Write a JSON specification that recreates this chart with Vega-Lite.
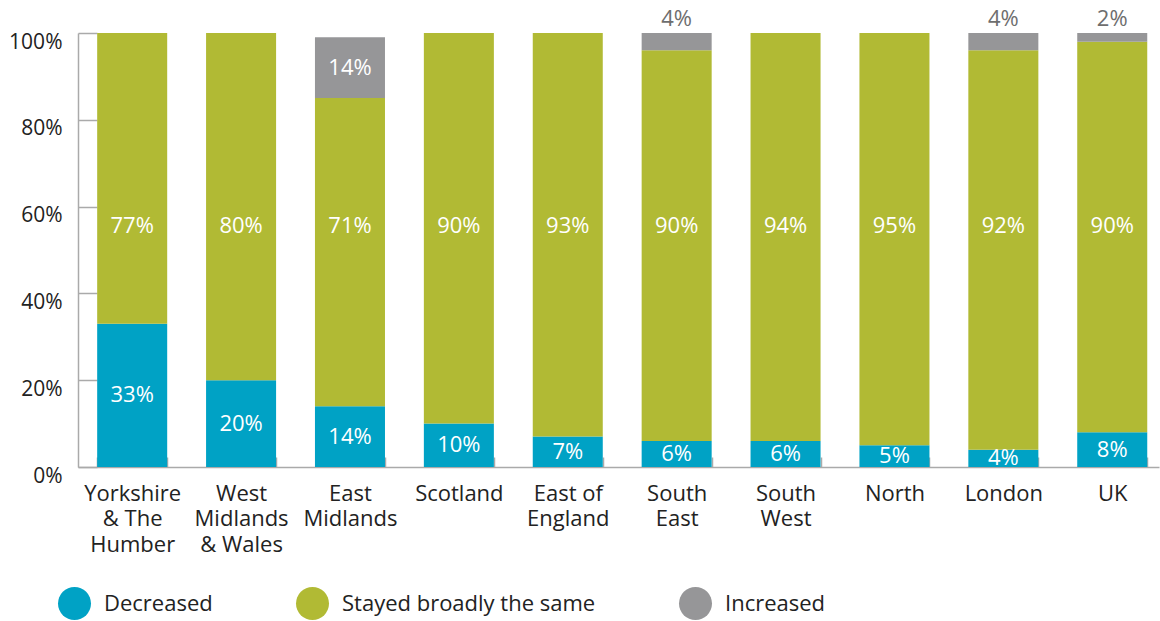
{
  "$schema": "https://vega.github.io/schema/vega-lite/v6.json",
  "width": 1081,
  "height": 434,
  "autosize": {"type": "none"},
  "padding": {"left": 78, "top": 33, "right": 1, "bottom": 154},
  "config": {"view": {"stroke": null}, "font": "Open Sans"},
  "data": {"values": [
    {"region": "Yorkshire|& The|Humber", "category": "Decreased", "rank": 1, "value": 33, "label": "33%"},
    {"region": "Yorkshire|& The|Humber", "category": "Stayed broadly the same", "rank": 2, "value": 67, "label": "77%"},
    {"region": "West|Midlands|& Wales", "category": "Decreased", "rank": 1, "value": 20, "label": "20%"},
    {"region": "West|Midlands|& Wales", "category": "Stayed broadly the same", "rank": 2, "value": 80, "label": "80%"},
    {"region": "East|Midlands", "category": "Decreased", "rank": 1, "value": 14, "label": "14%"},
    {"region": "East|Midlands", "category": "Stayed broadly the same", "rank": 2, "value": 71, "label": "71%"},
    {"region": "East|Midlands", "category": "Increased", "rank": 3, "value": 14, "label": "14%"},
    {"region": "Scotland", "category": "Decreased", "rank": 1, "value": 10, "label": "10%"},
    {"region": "Scotland", "category": "Stayed broadly the same", "rank": 2, "value": 90, "label": "90%"},
    {"region": "East of|England", "category": "Decreased", "rank": 1, "value": 7, "label": "7%"},
    {"region": "East of|England", "category": "Stayed broadly the same", "rank": 2, "value": 93, "label": "93%"},
    {"region": "South|East", "category": "Decreased", "rank": 1, "value": 6, "label": "6%"},
    {"region": "South|East", "category": "Stayed broadly the same", "rank": 2, "value": 90, "label": "90%"},
    {"region": "South|East", "category": "Increased", "rank": 3, "value": 4, "label": "4%"},
    {"region": "South|West", "category": "Decreased", "rank": 1, "value": 6, "label": "6%"},
    {"region": "South|West", "category": "Stayed broadly the same", "rank": 2, "value": 94, "label": "94%"},
    {"region": "North", "category": "Decreased", "rank": 1, "value": 5, "label": "5%"},
    {"region": "North", "category": "Stayed broadly the same", "rank": 2, "value": 95, "label": "95%"},
    {"region": "London", "category": "Decreased", "rank": 1, "value": 4, "label": "4%"},
    {"region": "London", "category": "Stayed broadly the same", "rank": 2, "value": 92, "label": "92%"},
    {"region": "London", "category": "Increased", "rank": 3, "value": 4, "label": "4%"},
    {"region": "UK", "category": "Decreased", "rank": 1, "value": 8, "label": "8%"},
    {"region": "UK", "category": "Stayed broadly the same", "rank": 2, "value": 90, "label": "90%"},
    {"region": "UK", "category": "Increased", "rank": 3, "value": 2, "label": "2%"}
  ]},
  "encoding": {
    "x": {
      "field": "region", "type": "nominal", "sort": null,
      "scale": {"paddingInner": 0.357, "paddingOuter": 0.142, "align": 0.62},
      "axis": {
        "title": null, "labelAngle": 0, "labelExpr": "split(datum.label, '|')",
        "labelFontSize": 22, "labelColor": "#222", "labelLineHeight": 25.5,
        "labelBaseline": "top", "labelPadding": 26,
        "domainColor": "#aaaaaa", "domainWidth": 1.5,
        "tickColor": "#aaaaaa", "tickWidth": 1.5, "tickSize": -10, "tickBand": "extent"
      }
    }
  },
  "layer": [
    {
      "mark": {"type": "bar"},
      "encoding": {
        "y": {
          "field": "value", "type": "quantitative", "stack": "zero",
          "scale": {"domain": [0, 100]},
          "axis": {
            "title": null, "values": [0, 20, 40, 60, 80, 100], "grid": false,
            "labelExpr": "datum.value + '%'", "labelFontSize": 21, "labelColor": "#222",
            "labelOffset": 9, "labelPadding": 35,
            "domainColor": "#aaaaaa", "domainWidth": 1.5,
            "tickColor": "#aaaaaa", "tickWidth": 1.5, "tickSize": -19
          }
        },
        "order": {"field": "rank", "type": "quantitative", "sort": "ascending"},
        "color": {
          "field": "category", "type": "nominal",
          "sort": ["Decreased", "Stayed broadly the same", "Increased"],
          "scale": {"domain": ["Decreased", "Stayed broadly the same", "Increased"], "range": ["#00A2C5", "#B1BA34", "#969698"]},
          "legend": {
            "title": null, "orient": "none", "legendX": -20, "legendY": 554,
            "direction": "horizontal", "symbolType": "circle", "symbolSize": 1089,
            "symbolStrokeWidth": 0, "symbolOpacity": 1, "labelFontSize": 22, "labelColor": "#222",
            "labelOffset": 13, "columnPadding": 83, "padding": 0, "labelLimit": 400
          }
        }
      }
    },
    {
      "mark": {"type": "text", "fontSize": 22},
      "encoding": {
        "y": {"field": "value", "type": "quantitative", "stack": "zero", "bandPosition": 0.5},
        "order": {"field": "rank", "type": "quantitative", "sort": "ascending"},
        "color": {
          "field": "category", "type": "nominal",
          "sort": ["Decreased", "Stayed broadly the same", "Increased"],
          "scale": {"domain": ["Decreased", "Stayed broadly the same", "Increased"], "range": ["#ffffff", "#ffffff", "#ffffff"]},
          "legend": null
        },
        "text": {"condition": {"test": "datum.category == 'Decreased' || (datum.category == 'Increased' && datum.value > 10)", "field": "label"}, "value": ""}
      }
    },
    {
      "transform": [{"filter": "datum.category == 'Stayed broadly the same'"}],
      "mark": {"type": "text", "fontSize": 22, "color": "#ffffff"},
      "encoding": {"y": {"datum": 55.5}, "text": {"field": "label"}}
    },
    {
      "transform": [{"filter": "datum.category == 'Increased' && datum.value < 10"}],
      "mark": {"type": "text", "fontSize": 22, "color": "#6e6e6e"},
      "encoding": {"y": {"datum": 103.3}, "text": {"field": "label"}}
    }
  ],
  "resolve": {"scale": {"color": "independent"}}
}
